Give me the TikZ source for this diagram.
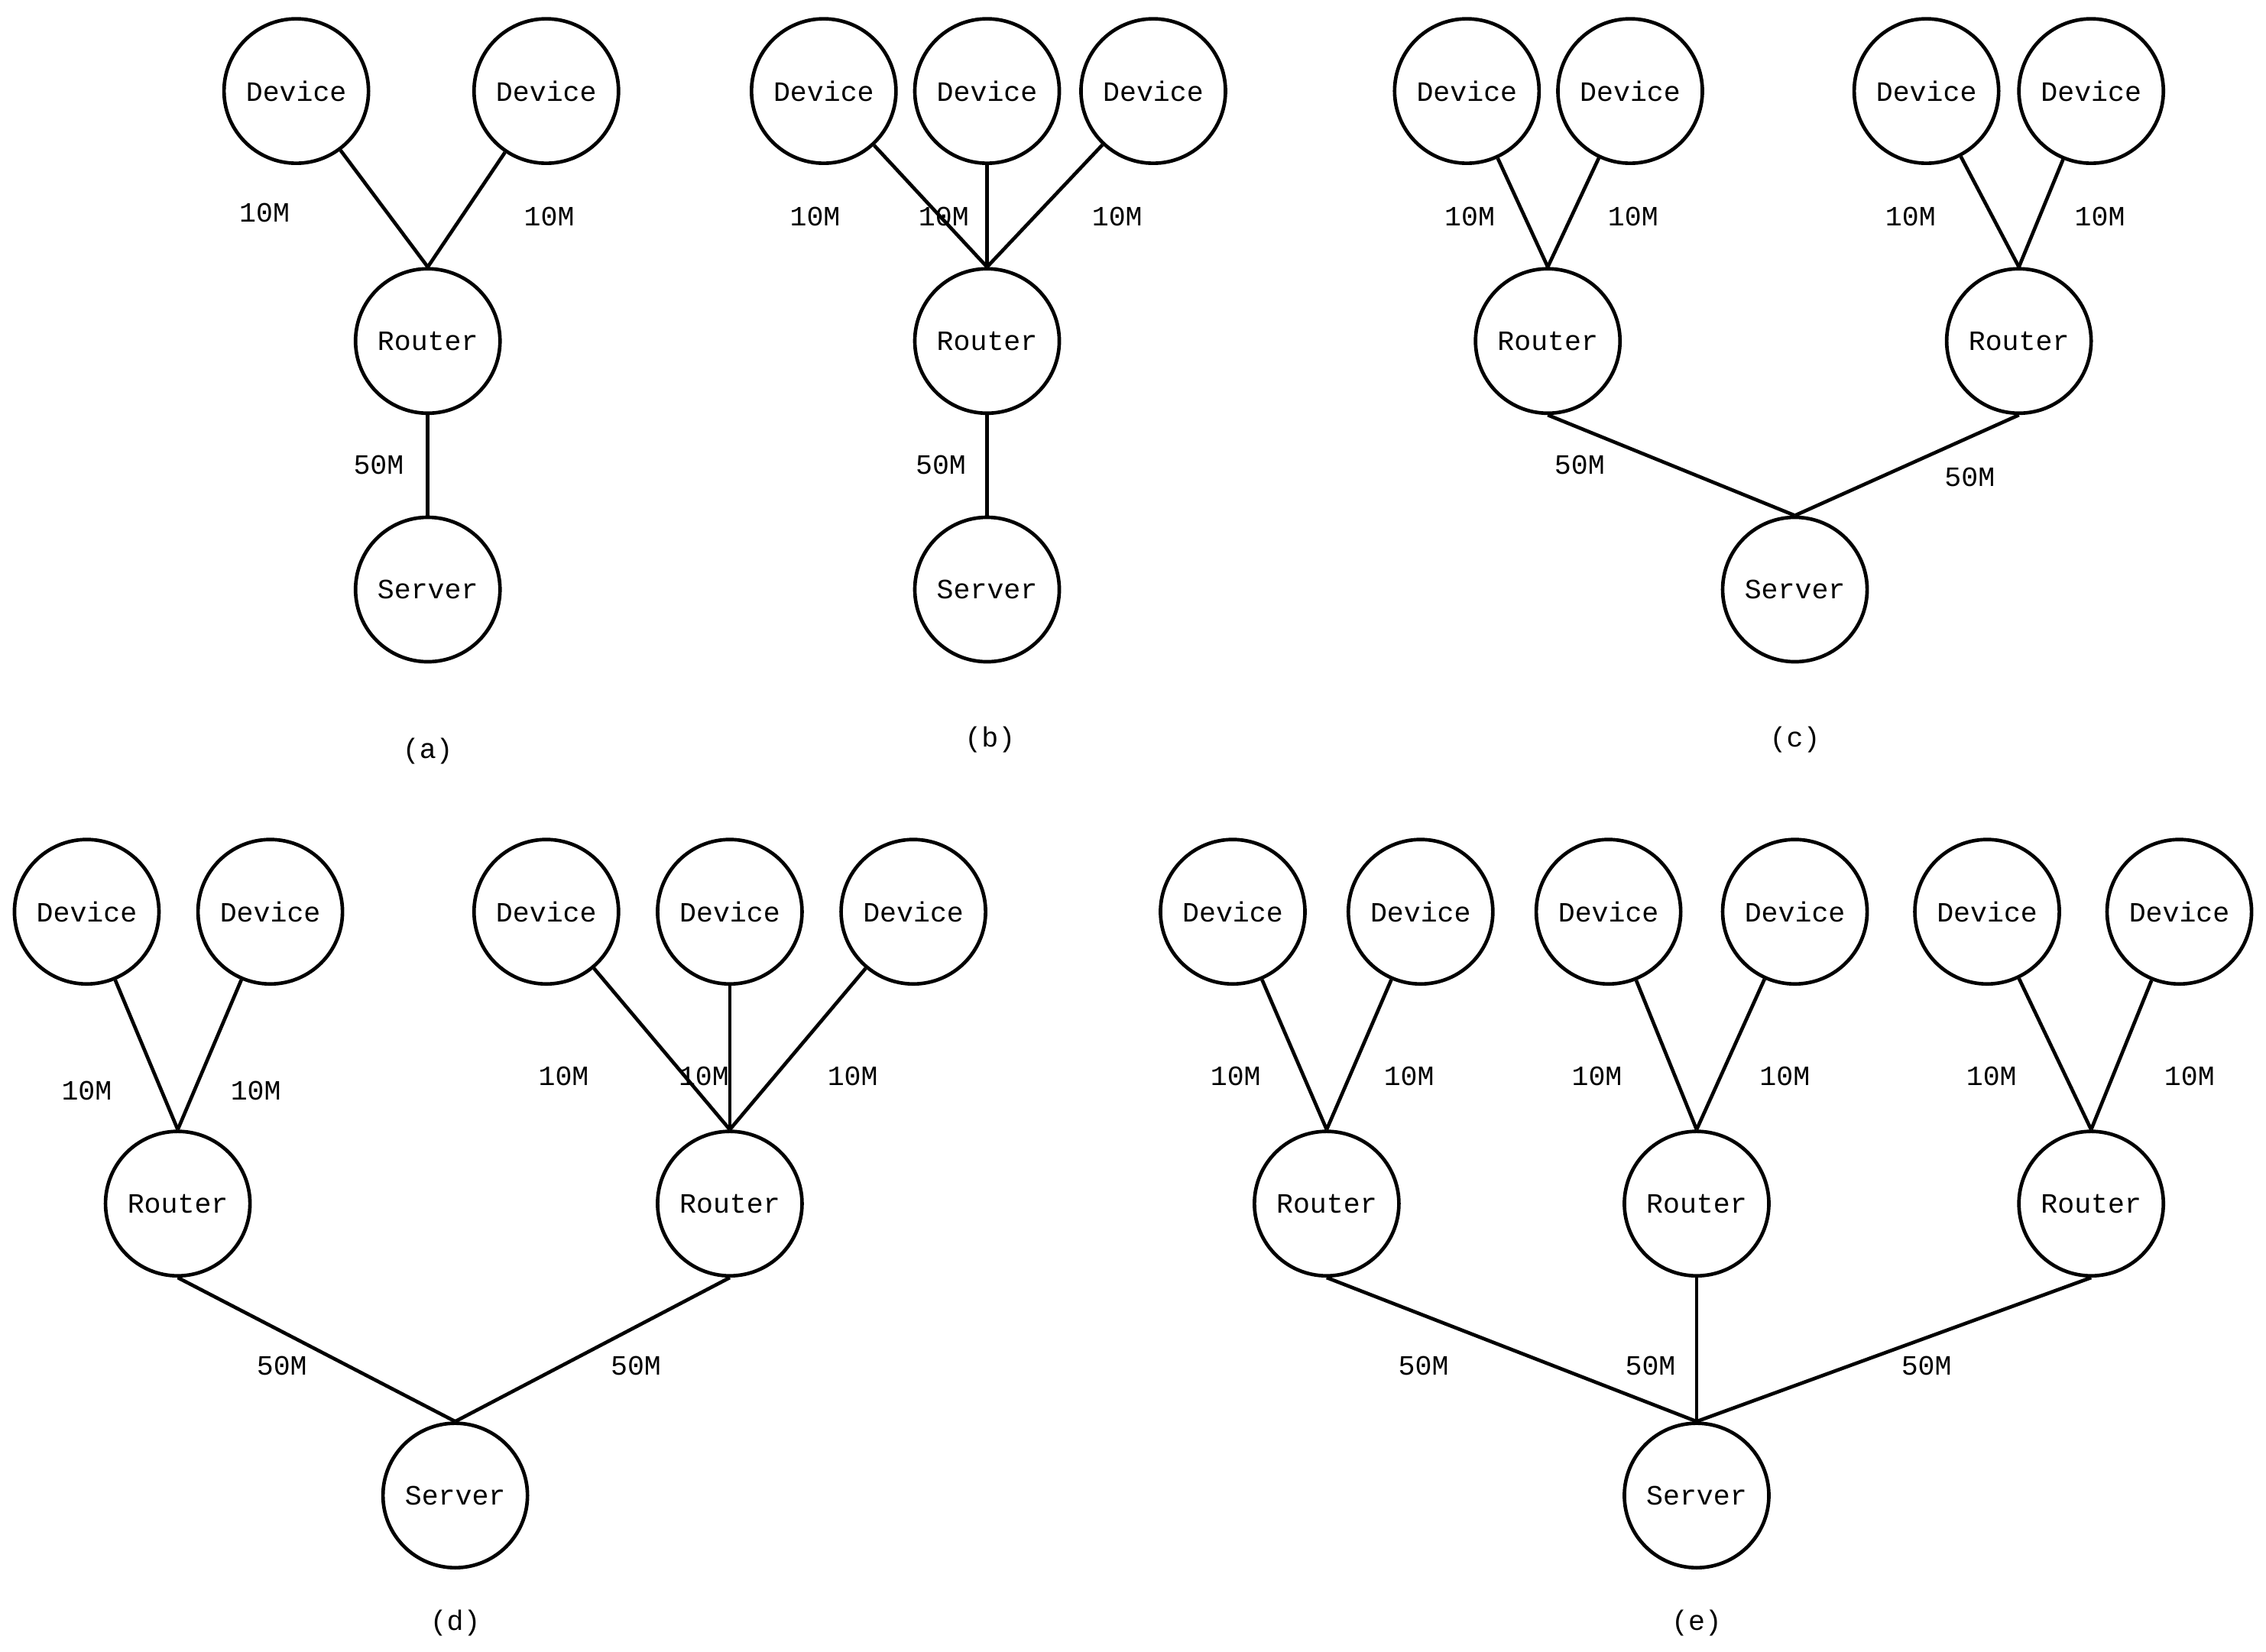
\documentclass[tikz,border=0pt]{standalone}
\usepackage{fontspec}
\setmainfont{Liberation Mono}
\begin{document}
\begin{tikzpicture}[x=0.02cm,y=-0.02cm,
  n/.style={circle,draw,line width=1.4pt,minimum size=2cm,inner sep=0pt,font=\fontsize{11}{13}\selectfont},
  l/.style={font=\fontsize{11}{13}\selectfont},
  e/.style={line width=1.4pt}]
\useasboundingbox (0,0) rectangle (1568,1143);
% (a)
\node[n] (a1) at (205,63) {Device};
\node[n] (a2) at (378,63) {Device};
\node[n] (ar) at (296,236) {Router};
\node[n] (as) at (296,408) {Server};
\draw[e] (a1) -- (ar.north); \draw[e] (a2) -- (ar.north); \draw[e] (ar.south) -- (as.north);
\node[l] at (183,147) {10M}; \node[l] at (380,150) {10M}; \node[l] at (262,322) {50M};
\node[l] (ca) at (296,520) {(a)};
% (b)
\node[n] (b1) at (570,63) {Device};
\node[n] (b2) at (683,63) {Device};
\node[n] (b3) at (798,63) {Device};
\node[n] (br) at (683,236) {Router};
\node[n] (bs) at (683,408) {Server};
\foreach \d in {b1,b2,b3} \draw[e] (\d) -- (br.north);
\draw[e] (br.south) -- (bs.north);
\node[l] at (564,150) {10M}; \node[l] at (653,150) {10M}; \node[l] at (773,150) {10M}; \node[l] at (651,322) {50M};
\node[l] (cb) at (685,512) {(b)};
% (c)
\node[n] (c1) at (1015,63) {Device};
\node[n] (c2) at (1128,63) {Device};
\node[n] (c3) at (1333,63) {Device};
\node[n] (c4) at (1447,63) {Device};
\node[n] (cr1) at (1071,236) {Router};
\node[n] (cr2) at (1397,236) {Router};
\node[n] (cs) at (1242,408) {Server};
\draw[e] (c1) -- (cr1.north); \draw[e] (c2) -- (cr1.north);
\draw[e] (c3) -- (cr2.north); \draw[e] (c4) -- (cr2.north);
\draw[e] (cr1.south) -- (cs.north); \draw[e] (cr2.south) -- (cs.north);
\node[l] at (1017,150) {10M}; \node[l] at (1130,150) {10M}; \node[l] at (1322,150) {10M}; \node[l] at (1453,150) {10M};
\node[l] at (1093,322) {50M}; \node[l] at (1363,330) {50M};
\node[l] (cc) at (1242,512) {(c)};
% (d)
\node[n] (d1) at (60,631) {Device};
\node[n] (d2) at (187,631) {Device};
\node[n] (d3) at (378,631) {Device};
\node[n] (d4) at (505,631) {Device};
\node[n] (d5) at (632,631) {Device};
\node[n] (dr1) at (123,833) {Router};
\node[n] (dr2) at (505,833) {Router};
\node[n] (ds) at (315,1035) {Server};
\draw[e] (d1) -- (dr1.north); \draw[e] (d2) -- (dr1.north);
\foreach \d in {d3,d4,d5} \draw[e] (\d) -- (dr2.north);
\draw[e] (dr1.south) -- (ds.north); \draw[e] (dr2.south) -- (ds.north);
\node[l] at (60,755) {10M}; \node[l] at (177,755) {10M}; \node[l] at (390,745) {10M}; \node[l] at (487,745) {10M}; \node[l] at (590,745) {10M};
\node[l] at (195,945) {50M}; \node[l] at (440,945) {50M};
\node[l] (cd) at (315,1123) {(d)};
% (e)
\node[n] (e1) at (853,631) {Device};
\node[n] (e2) at (983,631) {Device};
\node[n] (e3) at (1113,631) {Device};
\node[n] (e4) at (1242,631) {Device};
\node[n] (e5) at (1375,631) {Device};
\node[n] (e6) at (1508,631) {Device};
\node[n] (er1) at (918,833) {Router};
\node[n] (er2) at (1174,833) {Router};
\node[n] (er3) at (1447,833) {Router};
\node[n] (es) at (1174,1035) {Server};
\draw[e] (e1) -- (er1.north); \draw[e] (e2) -- (er1.north);
\draw[e] (e3) -- (er2.north); \draw[e] (e4) -- (er2.north);
\draw[e] (e5) -- (er3.north); \draw[e] (e6) -- (er3.north);
\foreach \r in {er1,er2,er3} \draw[e] (\r.south) -- (es.north);
\node[l] at (855,745) {10M}; \node[l] at (975,745) {10M}; \node[l] at (1105,745) {10M}; \node[l] at (1235,745) {10M}; \node[l] at (1378,745) {10M}; \node[l] at (1515,745) {10M};
\node[l] at (985,945) {50M}; \node[l] at (1142,945) {50M}; \node[l] at (1333,945) {50M};
\node[l] (ce) at (1174,1123) {(e)};
\end{tikzpicture}
\end{document}
